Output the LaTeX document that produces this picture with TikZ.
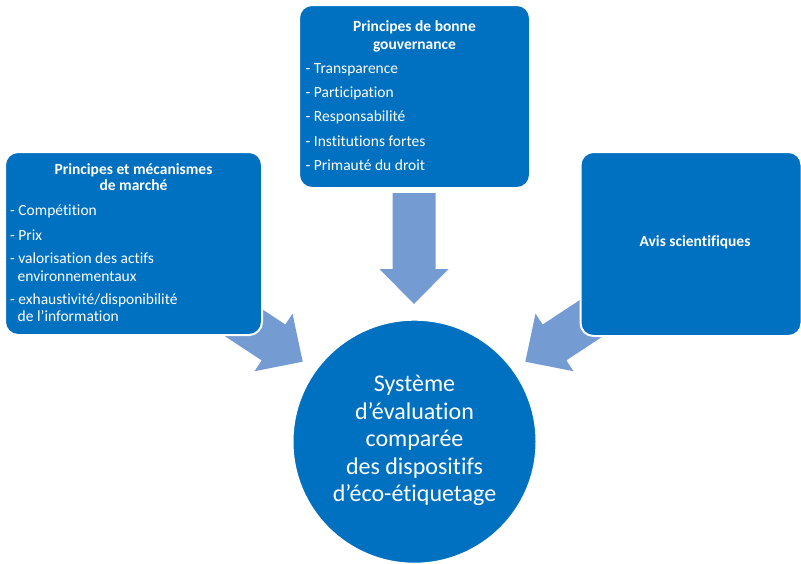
\documentclass[tikz,border=0pt]{standalone}
\usepackage{fontspec}
\setmainfont{Carlito}[Ligatures=NoCommon]
\definecolor{boxblue}{RGB}{0,112,192}
\definecolor{arrowblue}{RGB}{116,155,210}
\begin{document}
\begin{tikzpicture}[x=1pt,y=-1pt,
  box/.style={draw=white, line width=2pt, fill=boxblue, rounded corners=13pt, inner sep=0pt},
  ttl/.style={text=white, font=\fontsize{15.5}{18}\selectfont\bfseries, anchor=base, inner sep=0pt},
  itm/.style={text=white, font=\fontsize{15.5}{18}\selectfont, anchor=base west, inner sep=0pt},
  big/.style={text=white, font=\fontsize{24}{27}\selectfont, anchor=base, inner sep=0pt},
  blockarrow/.style={fill=arrowblue},
]
\useasboundingbox (0,0) rectangle (801,563);

% block arrows
\begin{scope}[shift={(414,304)}, rotate=-90]
  \fill[blockarrow] (0,0) -- (-35,34.5) -- (-35,21.5) -- (-111,21.5) -- (-111,-21.5) -- (-35,-21.5) -- (-35,-34.5) -- cycle;
\end{scope}
\begin{scope}[shift={(302.7,361.7)}, rotate=-33.4]
  \fill[blockarrow] (0,0) -- (-35,34.5) -- (-35,21.5) -- (-111,21.5) -- (-111,-21.5) -- (-35,-21.5) -- (-35,-34.5) -- cycle;
\end{scope}
\begin{scope}[shift={(525.3,361.7)}, rotate=-146.6]
  \fill[blockarrow] (0,0) -- (-35,34.5) -- (-35,21.5) -- (-111,21.5) -- (-111,-21.5) -- (-35,-21.5) -- (-35,-34.5) -- cycle;
\end{scope}

% boxes
\node[box, minimum width=257pt, minimum height=183pt] (lbox) at (133.5,243.5) {};
\node[box, minimum width=231pt, minimum height=183pt] (tbox) at (414.5,96.5) {};
\node[box, minimum width=221pt, minimum height=184pt] (rbox) at (691,244) {};
\node[box, circle, minimum size=244pt] (circ) at (414.5,441.7) {};

% left box text
\node[ttl] (lt1) at (133.5,174.3) {Principes et mécanismes};
\node[ttl] (lt2) at (133.5,190.7) {de marché};
\node[itm] (li1) at (10,215) {- Compétition};
\node[itm] (li2) at (10,240) {- Prix};
\node[itm] (li3) at (10,263.3) {- valorisation des actifs};
\node[itm] (li3b) at (17.5,281) {environnementaux};
\node[itm] (li4) at (10,304.3) {- exhaustivité/disponibilité};
\node[itm] (li4b) at (17.5,321.7) {de l’information};

% top box text
\node[ttl] (tt1) at (414.5,31.7) {Principes de bonne};
\node[ttl] (tt2) at (414.5,49.3) {gouvernance};
\node[itm] (ti1) at (305.5,73.3) {- Transparence};
\node[itm] (ti2) at (305.5,97.7) {- Participation};
\node[itm] (ti3) at (305.5,121.7) {- Responsabilité};
\node[itm] (ti4) at (305.5,146) {- Institutions fortes};
\node[itm] (ti5) at (305.5,170) {- Primauté du droit};

% right box text
\node[ttl] (rt) at (695,246.7) {Avis scientifiques};

% circle text
\node[big] (c1) at (414.5,391.7) {Système};
\node[big] (c2) at (414.5,419.5) {d’évaluation};
\node[big] (c3) at (414.5,446.7) {comparée};
\node[big] (c4) at (414.5,474.3) {des dispositifs};
\node[big] (c5) at (414.5,501.7) {d’éco-étiquetage};
\end{tikzpicture}
\end{document}
